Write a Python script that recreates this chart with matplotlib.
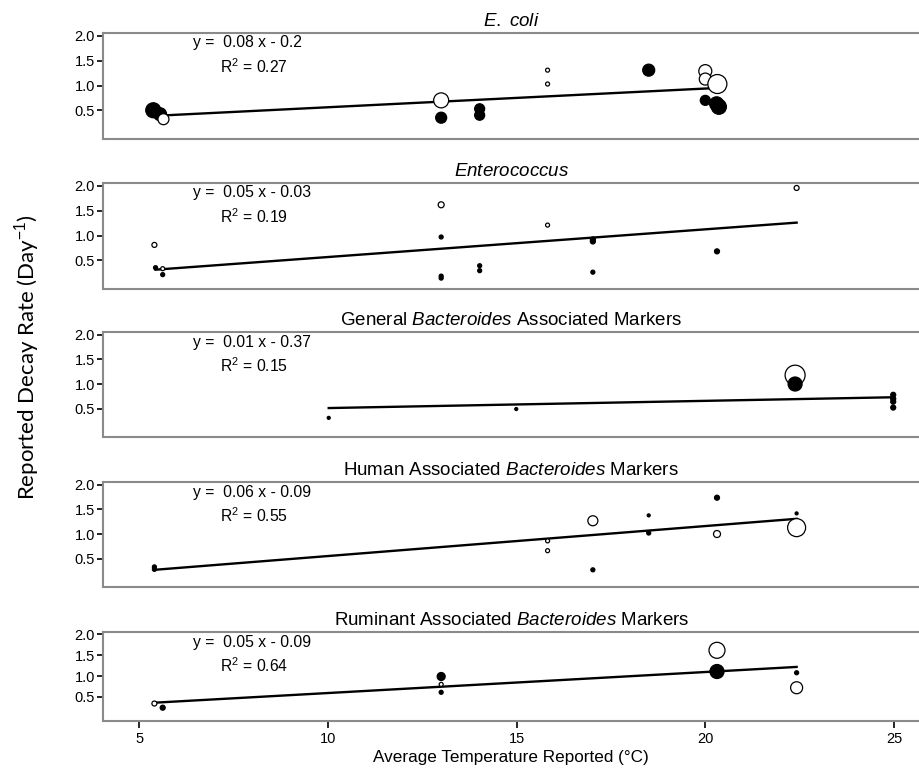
import matplotlib.pyplot as plt
import numpy as np

plt.rcParams["font.family"] = ["Liberation Sans", "DejaVu Sans"]
plt.rcParams["mathtext.fontset"] = "custom"
plt.rcParams["mathtext.rm"] = "Liberation Sans"
plt.rcParams["mathtext.it"] = "Liberation Sans:italic"

temp_ticks = [5, 10, 15, 20, 25]
rate_ticks = [0.5, 1.0, 1.5, 2.0]
rate_labels = ["0.5", "1.0", "1.5", "2.0"]

# E. coli
ecoli_x = [5.37, 5.55, 5.64, 13.0, 13.0, 14.02, 14.02, 15.82, 15.82, 18.5,
           20.0, 20.0, 20.32, 20.0, 20.3, 20.36]
ecoli_y = [0.50, 0.42, 0.32, 0.70, 0.35, 0.53, 0.40, 1.31, 1.03, 1.31,
           1.29, 1.13, 1.03, 0.70, 0.63, 0.57]
ecoli_d = [15, 13, 11, 15, 11, 10, 10, 4, 4, 12, 13, 12, 19, 10, 14, 15]
ecoli_filled = [1, 1, 0, 0, 1, 1, 1, 0, 0, 1, 0, 0, 0, 1, 1, 1]
ecoli_fit_x = [5.74, 20.3]
ecoli_fit_y = [0.40, 0.95]

# Enterococcus
entero_x = [5.40, 5.43, 5.62, 5.62, 13.0, 13.0, 13.0, 13.0, 14.02, 14.02,
            15.82, 17.02, 17.02, 17.02, 20.31, 22.42]
entero_y = [0.81, 0.35, 0.33, 0.21, 1.62, 0.97, 0.18, 0.14, 0.39, 0.29,
            1.21, 0.92, 0.88, 0.26, 0.68, 1.96]
entero_d = [5, 4, 4, 4, 6, 4, 4, 4, 4, 4, 4, 5, 5, 4, 5, 5]
entero_filled = [0, 1, 0, 1, 0, 1, 1, 1, 1, 1, 0, 1, 1, 1, 1, 0]
entero_fit_x = [5.43, 22.42]
entero_fit_y = [0.31, 1.26]

# General Bacteroides
gen_x = [10.02, 14.99, 22.38, 22.38, 24.98, 24.98, 24.98, 24.98]
gen_y = [0.31, 0.49, 1.18, 1.00, 0.78, 0.70, 0.64, 0.52]
gen_d = [3, 3, 20, 14, 5, 5, 5, 5]
gen_filled = [1, 1, 0, 1, 1, 1, 1, 1]
gen_fit_x = [10.02, 24.98]
gen_fit_y = [0.51, 0.73]

# Human associated Bacteroides
human_x = [5.40, 5.40, 15.82, 15.82, 17.02, 17.02, 18.5, 18.5, 20.31, 20.31,
           22.42, 22.42]
human_y = [0.33, 0.28, 0.86, 0.66, 1.27, 0.27, 1.38, 1.02, 1.74, 1.00,
           1.42, 1.13]
human_d = [4, 4, 4, 4, 10, 4, 3, 4, 5, 7, 3, 18]
human_filled = [1, 1, 0, 0, 0, 1, 1, 1, 1, 0, 1, 0]
human_fit_x = [5.40, 22.42]
human_fit_y = [0.27, 1.31]

# Ruminant associated Bacteroides
rum_x = [5.40, 5.62, 13.0, 13.0, 13.0, 20.31, 20.31, 22.42, 22.42]
rum_y = [0.34, 0.24, 0.99, 0.80, 0.61, 1.62, 1.11, 1.08, 0.72]
rum_d = [5, 5, 8, 4, 4, 16, 14, 4, 12]
rum_filled = [0, 1, 1, 0, 1, 0, 1, 1, 0]
rum_fit_x = [5.40, 22.42]
rum_fit_y = [0.36, 1.22]

panels = [
    (r"$\mathit{E.\ coli}$", "y =  0.08 x - 0.2", "0.27",
     ecoli_x, ecoli_y, ecoli_d, ecoli_filled, ecoli_fit_x, ecoli_fit_y),
    (r"$\mathit{Enterococcus}$", "y =  0.05 x - 0.03", "0.19",
     entero_x, entero_y, entero_d, entero_filled, entero_fit_x, entero_fit_y),
    (r"General $\mathit{Bacteroides}$ Associated Markers", "y =  0.01 x - 0.37", "0.15",
     gen_x, gen_y, gen_d, gen_filled, gen_fit_x, gen_fit_y),
    (r"Human Associated $\mathit{Bacteroides}$ Markers", "y =  0.06 x - 0.09", "0.55",
     human_x, human_y, human_d, human_filled, human_fit_x, human_fit_y),
    (r"Ruminant Associated $\mathit{Bacteroides}$ Markers", "y =  0.05 x - 0.09", "0.64",
     rum_x, rum_y, rum_d, rum_filled, rum_fit_x, rum_fit_y),
]

W, H = 920, 776
fig = plt.figure(figsize=(W / 100, H / 100), dpi=100)
fig.patch.set_facecolor("white")

# panel extents in pixels (top, bottom)
boxes = [(33, 139), (183, 289), (332, 437), (482, 587), (632, 721)]
left_px = 102.7

for i, ((top, bot), p) in enumerate(zip(boxes, panels)):
    title, eq, r2, xs, ys, ds, fl, fx, fy = p
    ax = fig.add_axes([left_px / W, 1 - bot / H, 1 - left_px / W, (bot - top) / H])
    ax.set_xlim(4.03, 25.69)
    ax.set_ylim(-0.08, 2.06)

    ax.plot(fx, fy, color="black", lw=1.7, zorder=2)
    sizes = (np.array(ds) * 0.72) ** 2
    faces = ["black" if f else "white" for f in fl]
    ax.scatter(xs, ys, s=sizes, c=faces, edgecolors="black",
               linewidths=0.9, zorder=3)

    ax.set_title(title, fontsize=13.5, pad=5)
    ax.annotate(eq, xy=(0.111, 1), xycoords="axes fraction",
                xytext=(0, -10), textcoords="offset pixels",
                fontsize=11.3, ha="left", va="center")
    ax.annotate(r"R$^2$ = " + r2, xy=(0.143, 1), xycoords="axes fraction",
                xytext=(0, -34), textcoords="offset pixels",
                fontsize=11.3, ha="left", va="center")

    for side in ["top", "left", "bottom"]:
        ax.spines[side].set_color("#8a8a8a")
        ax.spines[side].set_linewidth(1.5)
    ax.spines["right"].set_visible(False)

    ax.set_yticks(rate_ticks)
    ax.set_yticklabels(rate_labels)
    ax.tick_params(axis="y", direction="out", length=4, width=1.2,
                   labelsize=10.5, pad=1.5, color="black")
    if i == len(panels) - 1:
        ax.set_xticks(temp_ticks)
        ax.tick_params(axis="x", direction="out", length=5, width=1.2,
                       labelsize=10.5, pad=3, color="black")
        ax.set_xlabel("Average Temperature Reported (\u00b0C)", fontsize=12.3,
                      labelpad=3)
    else:
        ax.set_xticks([])

fig.text(0.029, 0.54, r"Reported Decay Rate (Day$^{-1}$)", rotation=90,
         ha="center", va="center", fontsize=16, family=["Lato", "DejaVu Sans"])

fig.savefig("out.png", dpi=100, facecolor="white")
